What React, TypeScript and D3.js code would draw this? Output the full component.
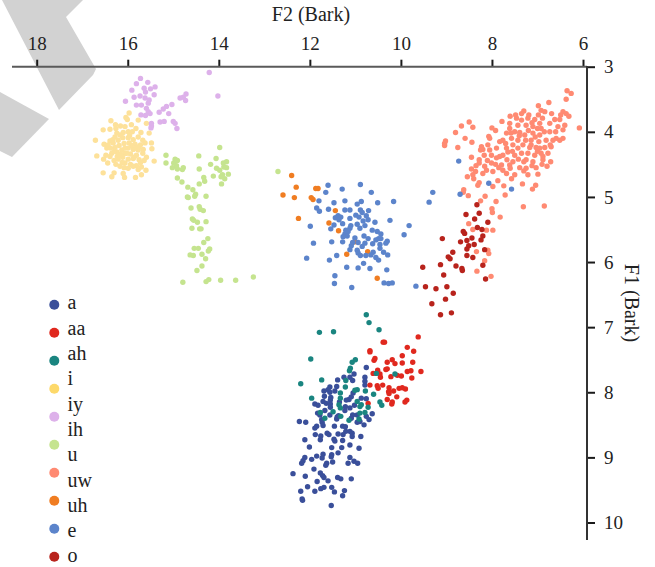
import React, { useEffect, useRef } from 'react';
import * as d3 from 'd3';

// [F2, F1] in Bark
const iy = [[14.21,3.09],[14.02,3.45],[15.72,3.18],[15.81,3.26],[15.56,3.24],[15.4,3.31],[15.5,3.34],[15.64,3.33],[15.91,3.36],[15.61,3.39],[15.42,3.43],[15.86,3.47],[15.73,3.45],[15.62,3.48],[15.53,3.51],[16.05,3.53],[15.81,3.59],[15.7,3.59],[15.55,3.56],[15.59,3.64],[15.55,3.69],[15.51,3.72],[15.71,3.74],[15.61,3.75],[14.72,3.42],[14.78,3.47],[14.85,3.48],[14.73,3.52],[15.03,3.58],[15.15,3.61],[15.22,3.65],[15.31,3.7],[15.1,3.72],[15.29,3.85],[15.2,3.84],[15,3.84],[14.96,3.87],[14.92,3.95],[15.48,3.87],[15.48,3.91],[15.49,3.94]];
const i = [[15.97,3.71],[16.04,3.78],[16.01,3.81],[16.37,3.83],[16.27,3.89],[16.16,3.91],[16.06,3.92],[15.92,3.89],[15.77,3.82],[15.59,3.87],[15.82,3.95],[16.54,3.97],[16.39,3.96],[16.26,3.95],[16.1,4.01],[15.99,4],[15.9,4],[15.71,4.01],[15.53,4.02],[16.71,4.13],[16.24,4.02],[16.28,4.08],[16.39,4.14],[16.52,4.19],[16.46,4.25],[16.32,4.17],[16.21,4.13],[16.11,4.09],[15.99,4.09],[15.88,4.12],[15.77,4.08],[15.67,4.13],[15.62,4.17],[15.48,4.17],[15.47,4.26],[15.72,4.2],[15.84,4.19],[15.97,4.17],[16.08,4.18],[16.19,4.21],[16.28,4.24],[16.38,4.25],[15.99,4.25],[15.88,4.27],[15.77,4.28],[15.66,4.27],[16.13,4.28],[16.24,4.31],[16.35,4.33],[16.48,4.36],[16.68,4.37],[16.06,4.33],[15.94,4.34],[15.81,4.36],[15.67,4.33],[15.59,4.39],[16.53,4.42],[16.44,4.48],[16.3,4.44],[16.21,4.42],[16.11,4.39],[15.99,4.42],[15.88,4.41],[15.75,4.43],[15.64,4.44],[15.42,4.45],[16.26,4.5],[16.06,4.48],[15.94,4.5],[15.81,4.52],[15.7,4.54],[16.08,4.55],[15.99,4.56],[16.17,4.53],[16.3,4.63],[16.54,4.63],[16.35,4.69],[16.07,4.7],[15.83,4.7],[15.7,4.66],[15.6,4.59],[15.77,4.58],[16.1,4.64],[15.88,4.53],[16.39,4.38],[16.16,4.34],[16.23,4.38],[15.81,4.25],[15.92,4.21],[16.06,4.25],[16.17,4.05],[16.02,4.33],[15.86,4.39],[16.33,4.12],[16.12,4.47],[15.75,4.23],[15.96,4.06],[16.19,4.36],[15.72,4.47],[16.43,4.2],[16.3,4.3]];
const u = [[13.98,4.24],[15.16,4.36],[15.16,4.48],[14.44,4.37],[14.06,4.41],[14.96,4.42],[14.91,4.44],[14.99,4.48],[14.93,4.52],[15.02,4.55],[14.91,4.57],[14.78,4.55],[14.8,4.58],[14.18,4.5],[14.43,4.57],[13.83,4.46],[13.9,4.48],[13.89,4.54],[14.05,4.56],[13.98,4.59],[13.83,4.55],[13.79,4.65],[13.92,4.66],[13.87,4.72],[13.95,4.69],[14.12,4.68],[13.94,4.8],[14.91,4.71],[14.81,4.77],[14.33,4.7],[14.31,4.76],[14.43,4.8],[14.68,4.85],[14.57,4.89],[14.51,4.96],[14.53,4.99],[14.69,5],[14.67,5.01],[14.28,4.99],[14.61,5.17],[14.43,5.15],[14.41,5.19],[14.34,5.21],[14.58,5.34],[14.55,5.36],[14.47,5.39],[14.28,5.38],[14.59,5.48],[14.42,5.49],[14.39,5.49],[14.24,5.64],[14.33,5.7],[14.54,5.79],[14.45,5.79],[14.2,5.8],[14.23,5.83],[14.63,5.89],[14.56,5.9],[14.37,5.88],[14.29,5.95],[14.37,6.06],[14.48,6.13],[14.79,6.31],[14.28,6.3],[14.22,6.27],[13.96,6.28],[13.63,6.28],[13.24,6.23],[12.7,4.61]];
const uh = [[12.4,4.67],[12.3,4.85],[12.59,4.97],[12.34,5.01],[11.87,4.87],[11.82,4.87],[11.97,5.01],[11.93,5.04],[12.25,5.33],[11.44,5.21],[11.58,5.4],[11.37,5.52],[11.01,5.69],[11.19,5.88],[10.73,5.84],[10.52,6.25]];
const e = [[11.6,4.82],[11.29,4.88],[10.89,4.81],[10.65,4.93],[11.65,4.93],[11.8,5.06],[11.85,5.17],[11.79,5.22],[11.59,5.19],[11.47,5.09],[11.23,5.06],[10.87,5.07],[10.96,5.11],[10.51,5.09],[10.16,5.07],[11.23,5.2],[11.12,5.2],[10.71,5.21],[10.89,5.2],[10.85,5.24],[10.99,5.28],[10.92,5.31],[10.76,5.29],[10.72,5.35],[10.83,5.37],[11.38,5.29],[11.44,5.32],[11.32,5.31],[11.36,5.35],[11.12,5.33],[10.57,5.39],[10.24,5.36],[11.47,5.43],[11.54,5.49],[11.99,5.45],[11.28,5.41],[11.1,5.44],[11.12,5.48],[10.96,5.42],[10.9,5.48],[10.79,5.44],[9.82,5.44],[9.93,5.58],[11.21,5.51],[11.16,5.53],[11.23,5.57],[11.18,5.6],[11.27,5.61],[10.63,5.51],[10.52,5.53],[10.44,5.57],[11.01,5.63],[10.81,5.6],[10.72,5.64],[10.49,5.64],[10.55,5.66],[10.44,5.64],[11.52,5.69],[11.28,5.69],[11.92,5.71],[11.06,5.7],[10.94,5.7],[10.79,5.71],[10.3,5.68],[10.33,5.71],[10.46,5.73],[10.62,5.72],[11.09,5.75],[10.85,5.76],[11.12,5.81],[10.46,5.79],[10.96,5.82],[10.94,5.86],[10.61,5.85],[10.38,5.85],[10.29,5.89],[11.41,5.9],[10.89,5.9],[10.77,5.9],[10.66,5.89],[10.55,5.93],[10.49,5.97],[12.07,5.94],[11.57,5.97],[10.82,6.02],[11.19,6.08],[10.94,6.09],[10.68,6.1],[10.31,6.12],[11.45,6.21],[11.46,6.33],[11.08,6.39],[10.37,6.32],[10.27,6.33],[10.19,6.32],[9.67,6.37],[9.3,4.93],[9.38,5.08],[8.7,4.96],[8.73,4.45],[8.07,4.79],[7.57,4.88]];
const uw = [[6.35,3.37],[6.26,3.41],[6.37,3.5],[6.75,3.55],[6.98,3.6],[6.92,3.67],[6.84,3.69],[6.69,3.72],[7.3,3.68],[7.35,3.72],[7.48,3.74],[7.6,3.76],[7.46,3.79],[7.19,3.74],[7.21,3.79],[6.44,3.69],[6.37,3.72],[6.31,3.76],[6.49,3.74],[6.51,3.81],[6.62,3.81],[6.73,3.87],[6.89,3.79],[7.06,3.81],[6.95,3.87],[7.78,3.84],[7.61,3.87],[7.35,3.82],[7.43,3.9],[7.25,3.9],[7.1,3.92],[6.92,3.95],[6.4,3.9],[6.44,3.97],[6.08,3.94],[8.67,3.91],[8.5,3.85],[8.42,3.93],[8.8,4.01],[8,3.94],[7.92,3.98],[8.07,4.07],[8.05,4.1],[8.59,4.1],[8.44,4.16],[9.02,4.14],[9.04,4.18],[9.04,4.21],[8.75,4.24],[7.61,3.95],[7.5,4],[7.68,4.02],[7.39,4.01],[7.28,4.05],[7.1,4.02],[6.95,4.05],[6.73,4],[6.59,4.1],[6.44,4.1],[6.51,4.13],[6.66,4.13],[6.81,4.13],[6.97,4.15],[7.14,4.13],[7.26,4.13],[7.43,4.13],[7.57,4.1],[7.76,4.13],[7.83,4.15],[8.09,4.2],[8.23,4.23],[8.25,4.28],[8.05,4.28],[7.9,4.25],[7.68,4.25],[7.54,4.2],[7.32,4.2],[7.17,4.24],[7.03,4.24],[6.84,4.24],[6.7,4.23],[8.2,4.27],[8.01,4.36],[7.83,4.38],[7.65,4.31],[7.5,4.36],[7.35,4.33],[7.21,4.33],[7.06,4.36],[6.92,4.33],[6.77,4.33],[8.45,4.39],[8.28,4.43],[8.28,4.48],[7.67,4.43],[7.54,4.46],[7.25,4.43],[7.1,4.46],[6.88,4.43],[6.71,4.46],[6.88,4.38],[8.01,4.48],[7.79,4.51],[7.61,4.51],[7.39,4.55],[7.25,4.56],[7.03,4.55],[6.79,4.53],[8.16,4.53],[8.12,4.59],[8.45,4.57],[8.36,4.61],[8.42,4.66],[8.54,4.69],[8.2,4.64],[7.98,4.61],[7.76,4.59],[7.68,4.64],[7.5,4.66],[7.21,4.66],[6.99,4.65],[7.57,4.72],[8.4,4.72],[8.28,4.78],[8.31,4.82],[7.87,4.75],[7.98,4.84],[7.74,4.83],[7.33,4.8],[7.04,4.82],[7.11,4.88],[8.62,4.89],[8.63,4.93],[8.52,4.98],[8.15,4.99],[7.71,4.97],[7.91,5.07],[8.25,5.06],[7.31,5.15],[6.85,5.14],[8,5.18],[7.99,5.24],[7.82,5.31],[8.51,5.41],[8.42,5.5],[8.12,5.51],[7.98,5.51],[8.34,5.84],[8.09,5.82],[8.07,5.87],[8.16,5.98],[8.33,6.14],[8.02,6.22],[7.9,4.4],[7.43,4.25],[7.76,4.36],[7.3,4.46],[7.14,4.2],[8.17,4.36],[7.58,4.02],[7.2,3.98],[7,4.3],[6.85,4.0],[7.55,4.3],[7.42,4.42],[7.12,4.52],[6.95,4.25],[7.7,4.18],[7.6,4.56],[7.85,4.55],[6.6,4.0],[6.55,3.92],[7.0,3.95],[7.4,4.06],[6.72,4.2],[6.9,4.5],[7.3,4.6],[7.92,4.5],[8.1,4.44],[8.35,4.52],[7.05,4.08],[6.98,3.74],[7.12,3.86]];
const o = [[8.33,5.12],[8.57,5.27],[8.28,5.25],[8.38,5.34],[8.09,5.39],[8.32,5.47],[8.22,5.5],[8.63,5.53],[8.6,5.56],[8.2,5.6],[9.09,5.64],[8.44,5.63],[8.55,5.67],[8.69,5.69],[8.24,5.66],[8.39,5.73],[8.51,5.75],[8.55,5.8],[8.16,5.81],[8.86,5.85],[8.55,5.9],[8.42,5.93],[8.96,5.92],[8.92,5.95],[9.13,6.04],[8.79,6.06],[8.66,6.1],[8.65,6.13],[8.2,6.05],[9.52,6.08],[9.06,6.2],[8.14,6.26],[9.46,6.38],[9.23,6.41],[8.99,6.38],[8.85,6.48],[9.02,6.57],[9.32,6.64],[9.13,6.81],[8.89,6.78]];
const ah = [[10.76,6.81],[10.7,6.93],[10.48,7.04],[11.79,7.08],[11.48,7.07],[11.98,7.49],[12.2,7.87],[11.74,7.81],[11,7.5],[11.07,7.54],[11.11,7.63],[11.13,7.67],[11.21,7.82],[11.22,7.92],[11.33,8.01],[10.96,7.96],[11.01,7.97],[10.78,7.98],[10.6,8.03],[11.96,8.09],[11.33,8.09],[11.36,8.19],[11.33,8.24],[10.96,8.14],[10.9,8.22],[10.87,8.19],[10.72,8.23],[10.46,8.15],[10.42,8.2],[11.49,8.3],[11.77,8.31],[11.67,8.4],[11.32,8.37],[10.79,8.31],[10.9,8.32],[10.92,8.41],[11.14,8.43],[10.13,7.72],[10.54,7.71]];
const aa = [[9.62,7.15],[10.39,7.23],[10.36,7.23],[10.68,7.36],[10.68,7.38],[10.57,7.48],[10.59,7.51],[10.3,7.54],[10.19,7.5],[10.13,7.56],[9.97,7.44],[9.86,7.31],[9.72,7.37],[9.97,7.55],[9.74,7.54],[10.3,7.64],[10.33,7.65],[10.51,7.66],[10.61,7.71],[10.46,7.72],[10.45,7.77],[10.22,7.76],[10.08,7.74],[9.99,7.75],[9.86,7.68],[9.78,7.67],[9.56,7.68],[9.76,7.78],[10.68,7.89],[10.52,7.9],[10.5,7.94],[10.4,7.89],[10.26,7.93],[10.27,7.99],[10.16,7.98],[10.26,8.02],[10.04,7.94],[9.97,7.93],[9.9,7.95],[10.09,8.07],[10.3,8.11],[10.19,8.15],[10.2,8.18],[9.87,8.12],[9.91,8.15],[10.72,8.17]];
const a = [[10.76,7.62],[11.03,7.72],[11.25,7.77],[11.12,7.77],[11.06,7.82],[11.39,7.81],[10.79,7.77],[10.79,7.83],[10.79,7.89],[11.41,7.91],[11.56,7.92],[11.6,7.96],[11.69,7.98],[11.56,8],[11.05,8.01],[11.09,8.07],[11.14,8.11],[11.54,8.08],[11.55,8.12],[11.68,8.06],[11.71,8.14],[11.89,8.18],[11.82,8.2],[11.64,8.17],[11.55,8.18],[10.87,8.09],[10.76,8.1],[11.22,8.22],[11.12,8.24],[11.23,8.28],[11.67,8.28],[11.55,8.23],[11.56,8.35],[11.83,8.32],[11.78,8.35],[11.37,8.36],[11.41,8.41],[11.06,8.35],[11.09,8.4],[10.96,8.35],[10.76,8.37],[10.63,8.33],[10.7,8.42],[10.96,8.46],[10.81,8.5],[12.23,8.45],[12.09,8.46],[11.73,8.46],[11.71,8.51],[11.85,8.52],[11.89,8.55],[11.46,8.52],[11.28,8.52],[11.22,8.53],[11.21,8.6],[11.12,8.6],[11.07,8.63],[11.88,8.65],[11.76,8.67],[11.77,8.73],[11.62,8.63],[11.58,8.65],[11.38,8.64],[11.27,8.65],[11.07,8.68],[10.88,8.68],[11.47,8.72],[11.45,8.75],[11.28,8.74],[12.11,8.73],[12.01,8.84],[11.12,8.81],[11.52,8.85],[11.3,8.85],[10.92,8.86],[11.38,8.93],[11.12,9],[11.71,8.95],[11.73,9.01],[11.85,8.98],[11.96,9.03],[11.52,8.96],[11.53,8.99],[12.11,9],[12.15,9.05],[12.18,9.09],[11.63,9.09],[11.5,9.07],[11.65,9.12],[11.16,9.09],[11.03,9.06],[10.95,9.09],[11.91,9.18],[12.37,9.25],[11.77,9.24],[11.72,9.28],[11.69,9.31],[12.1,9.29],[11.39,9.31],[11.32,9.33],[11.09,9.33],[11.84,9.37],[11.6,9.36],[12.05,9.45],[11.69,9.46],[11.76,9.48],[11.52,9.46],[12.2,9.52],[11.89,9.52],[11.46,9.53],[11.24,9.51],[11.28,9.59],[12.17,9.64],[12.16,9.66],[11.53,9.74],[11.35,8.15],[11.45,7.98],[11.74,8.42],[10.9,8.45],[11.4,8.38],[11.2,8.12],[11.02,8.2]];

const series = [a, aa, ah, i, iy, u, uw, uh, e, o];
const seriesColors = ['#3a4f9a', '#e0281e', '#1a8580', '#fde19a', '#ddb1ea', '#c5e48f', '#ff8a72', '#f07d22', '#5c84cb', '#b8231c'];
const legendDotColors = ['#3a4f9a', '#e0281e', '#1a8580', '#fdd96a', '#ddb1ea', '#c5e48f', '#ff8a72', '#f07d22', '#5c84cb', '#b8231c'];
const legendLabels = ['a', 'aa', 'ah', 'i', 'iy', 'ih', 'u', 'uw', 'uh', 'e', 'o'];
const f2Ticks = [18, 16, 14, 12, 10, 8, 6];
const f1Ticks = [3, 4, 5, 6, 7, 8, 9, 10];

const serif = '"Liberation Serif", serif';
const width = 655;
const height = 567;

export default function App() {
  const ref = useRef<SVGSVGElement>(null);

  useEffect(() => {
    const svg = d3.select(ref.current);
    svg.selectAll('*').remove();

    const x = d3.scaleLinear().domain([18, 6]).range([36.7, 583]);
    const y = d3.scaleLinear().domain([3, 10]).range([66.7, 522.5]);

    // grey shapes that cut into the top left corner
    svg.append('path').attr('d', 'M2,0 L83,0 L66,17 L96,69 L93,75 L59,110 Z').attr('fill', '#d2d2d2');
    svg.append('path').attr('d', 'M0,92 L49,119 L12,157 L0,151 Z').attr('fill', '#d2d2d2');

    series.forEach((pts, s) => {
      svg.append('g')
        .selectAll('circle')
        .data(pts)
        .enter().append('circle')
        .attr('cx', d => x(d[0]))
        .attr('cy', d => y(d[1]))
        .attr('r', 2.7)
        .attr('fill', seriesColors[s]);
    });

    const xAxis = svg.append('g')
      .attr('transform', 'translate(0,66.7)')
      .call(d3.axisTop(x).tickValues(f2Ticks).tickFormat(d3.format('d')).tickSize(7).tickPadding(10).tickSizeOuter(0));
    xAxis.select('.domain').remove();
    xAxis.append('line').attr('x1', 12).attr('x2', 587).attr('stroke', '#5a5a5a').attr('stroke-width', 2);
    xAxis.selectAll('.tick line').attr('stroke', '#1a1a1a').attr('stroke-width', 2);

    const yAxis = svg.append('g')
      .attr('transform', 'translate(587,0)')
      .call(d3.axisRight(y).tickValues(f1Ticks).tickFormat(d3.format('d')).tickSize(8).tickPadding(9).tickSizeOuter(0));
    yAxis.select('.domain').remove();
    yAxis.append('line').attr('y1', 66).attr('y2', 540).attr('stroke', '#333').attr('stroke-width', 2);
    yAxis.selectAll('.tick line').attr('stroke', '#1a1a1a').attr('stroke-width', 2);

    svg.selectAll('.tick text')
      .style('font-family', serif)
      .style('font-size', '19px')
      .attr('fill', '#222');

    svg.append('text')
      .attr('x', 311).attr('y', 21)
      .attr('text-anchor', 'middle')
      .style('font-family', serif).style('font-size', '20px')
      .attr('fill', '#222')
      .text('F2 (Bark)');

    svg.append('text')
      .attr('transform', 'translate(625,303) rotate(90)')
      .attr('text-anchor', 'middle')
      .style('font-family', serif).style('font-size', '20px')
      .attr('fill', '#222')
      .text('F1 (Bark)');

    // legend: dots and labels run on different spacings, as in the original
    const dotY = d3.scaleLinear().domain([0, 9]).range([304.7, 556.7]);
    const labelY = d3.scaleLinear().domain([0, 10]).range([303, 556]);

    svg.append('g').selectAll('circle')
      .data(legendDotColors)
      .enter().append('circle')
      .attr('cx', 54.3)
      .attr('cy', (d, k) => dotY(k))
      .attr('r', 5)
      .attr('fill', d => d);

    svg.append('g').selectAll('text')
      .data(legendLabels)
      .enter().append('text')
      .attr('x', 67.5)
      .attr('y', (d, k) => labelY(k))
      .attr('dy', '0.32em')
      .style('font-family', serif).style('font-size', '20px')
      .attr('fill', '#222')
      .text(d => d);
  }, []);

  return (
    <svg
      ref={ref}
      width={width}
      height={height}
      style={{ position: 'absolute', left: 0, top: 0, background: '#fff' }}
    />
  );
}
